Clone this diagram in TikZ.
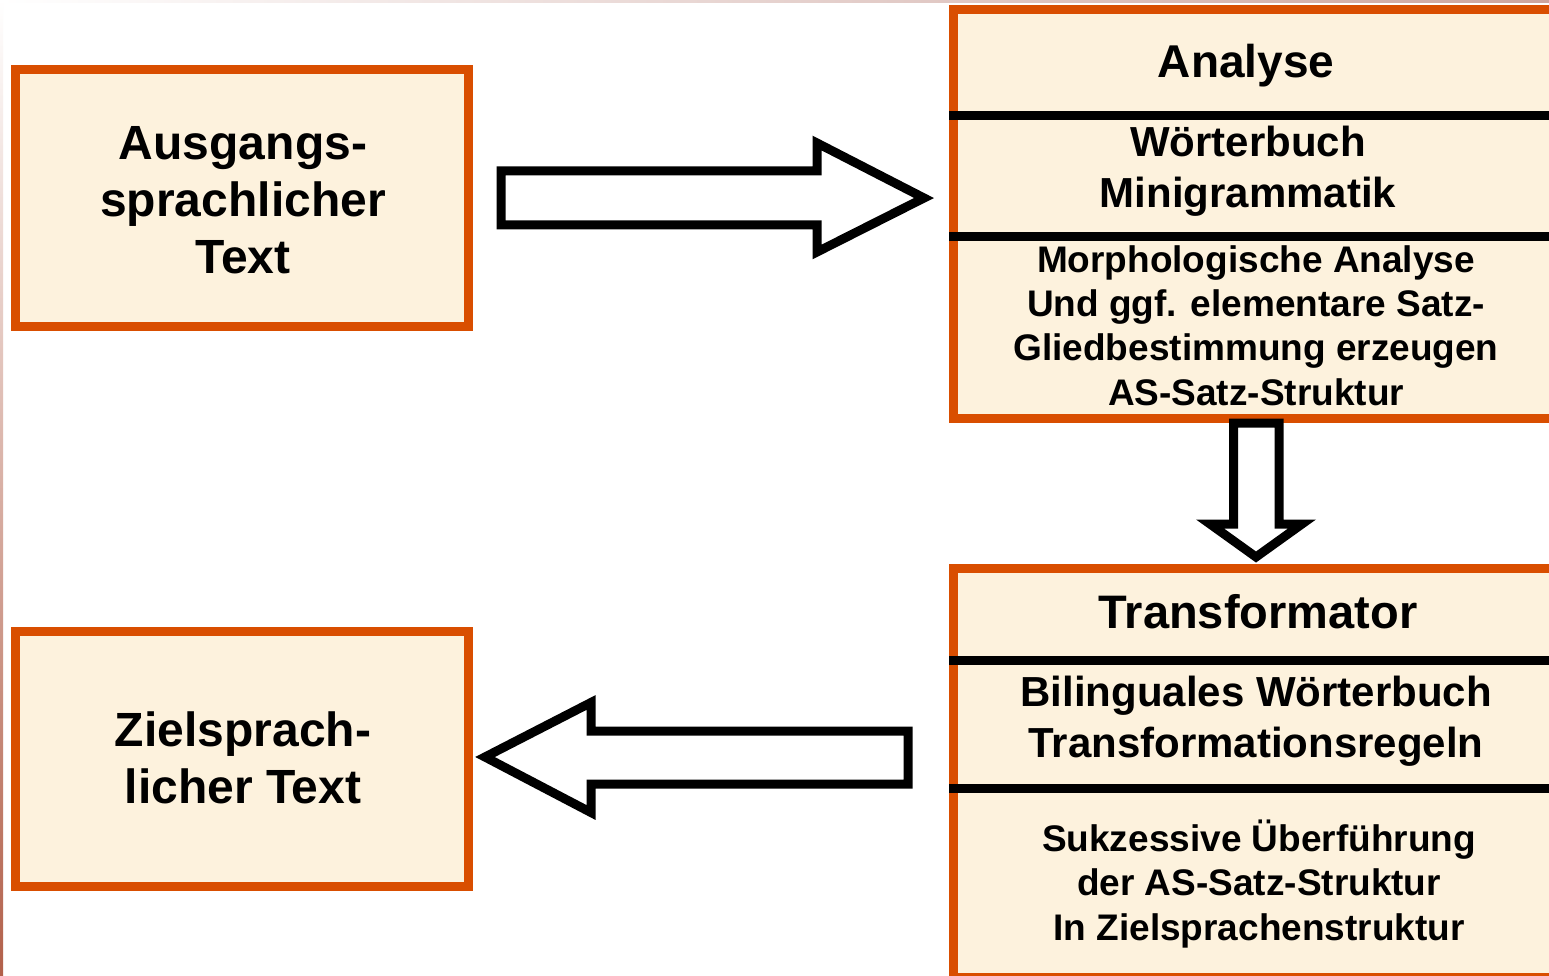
\documentclass[tikz,border=0pt]{standalone}
\usepackage{fontspec}
\setmainfont{Liberation Sans}
\definecolor{boxfill}{RGB}{253,242,221}
\definecolor{boxline}{RGB}{217,78,0}
\definecolor{stripA}{RGB}{205,165,158}
\definecolor{stripB}{RGB}{178,96,74}
\tikzset{
  box/.style={draw=boxline, fill=boxfill, line width=9pt, inner sep=0pt, outer sep=0pt},
  divider/.style={draw=black, line width=9pt},
  blockarrow/.style={draw=black, fill=white, line width=9pt, line join=miter},
  txt/.style={font=\bfseries, align=center, anchor=base, inner sep=0pt},
  big/.style={font=\bfseries\fontsize{48}{57}\selectfont},
  head/.style={font=\bfseries\fontsize{47}{56}\selectfont},
  mid/.style={font=\bfseries\fontsize{42}{51}\selectfont},
  small/.style={font=\bfseries\fontsize{37}{44.3}\selectfont}
}
\begin{document}
\begin{tikzpicture}[x=1pt,y=-1pt]
\useasboundingbox (0,0) rectangle (1549,976);
\clip (0,0) rectangle (1549,976);
\fill[white] (0,0) rectangle (1549,976);
\shade[left color=white, right color=stripA] (0,0) rectangle (1549,3);
\shade[top color=white, bottom color=stripB] (0,0) rectangle (3,976);

% boxes
\node[box, minimum width=453pt, minimum height=256.5pt] (src) at (242,197.75) {};
\node[box, minimum width=453pt, minimum height=255pt] (tgt) at (242,758.5) {};
\node[box, minimum width=646.5pt, minimum height=408.5pt] (ana) at (1276.75,213.75) {};
\node[box, minimum width=646.5pt, minimum height=409.5pt] (trf) at (1276.75,772.75) {};

% dividers
\draw[divider] (949,115.5) -- (1600,115.5);
\draw[divider] (949,236.5) -- (1600,236.5);
\draw[divider] (949,660) -- (1600,660);
\draw[divider] (949,788) -- (1600,788);

% block arrows
\draw[blockarrow] (501,171) -- (817,171) -- (817,143) -- (924,198) -- (817,252) -- (817,225) -- (501,225) -- cycle;
\draw[blockarrow] (1233.5,423) -- (1279,423) -- (1279,524) -- (1302,524) -- (1256,557) -- (1210,524) -- (1233.5,524) -- cycle;
\draw[blockarrow] (908,731) -- (591,731) -- (591,702.5) -- (485,757) -- (591,812.5) -- (591,784) -- (908,784) -- cycle;

% texts (base anchor = baseline of last line)
\node[txt, big] (srcT) at (243,273) {Ausgangs-\\sprachlicher\\Text};
\node[txt, big] (tgtT) at (243,803) {Zielsprach-\\licher Text};
\node[txt, font=\bfseries\fontsize{46}{55}\selectfont] (anaT) at (1246,78) {Analyse};
\node[txt, mid] (anaW) at (1248,208) {Wörterbuch\\Minigrammatik};
\node[txt, small] (anaM) at (1256,405) {Morphologische Analyse\\Und ggf. elementare Satz-\\Gliedbestimmung erzeugen\\AS-Satz-Struktur};
\node[txt, head] (trfT) at (1258,628) {Transformator};
\node[txt, mid] (trfW) at (1256,757) {Bilinguales Wörterbuch\\Transformationsregeln};
\node[txt, small] (trfS) at (1259,940) {Sukzessive Überführung\\der AS-Satz-Struktur\\In Zielsprachenstruktur};
\end{tikzpicture}
\end{document}
